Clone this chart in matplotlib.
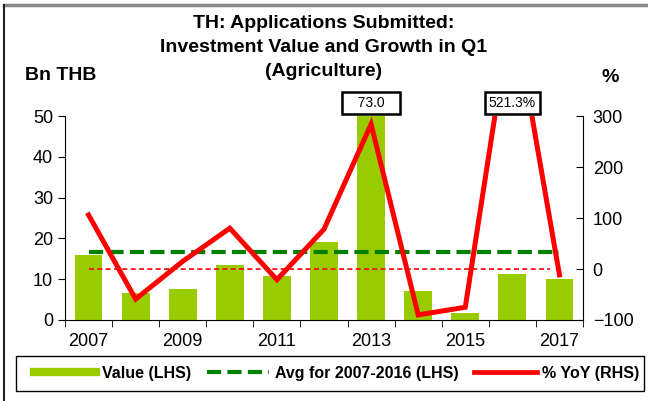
import matplotlib.pyplot as plt
from matplotlib.lines import Line2D
from matplotlib.patches import Rectangle
import numpy as np

plt.rcParams['font.family'] = ['Liberation Sans', 'DejaVu Sans']

# data
years = np.arange(2007, 2018)
value = [16.0, 6.5, 7.5, 13.5, 10.7, 19.0, 73.0, 7.2, 1.8, 11.3, 10.0]
yoy = [106, -59, 15, 80, -21, 78, 284, -90, -75, 521.3, -11.5]
avg_0716 = np.mean(value[:10])
tick_years = ['2007', '2009', '2011', '2013', '2015', '2017']
title_lines = ['TH: Applications Submitted:', 'Investment Value and Growth in Q1', '(Agriculture)']

bar_c = '#99CC00'
avg_c = '#008000'
red = '#FF0000'

fig = plt.figure(figsize=(6.48, 4.01), dpi=100)
ax = fig.add_axes([65/648, 1-320/401, 518/648, 204/401])
ax2 = ax.twinx()

x = np.arange(len(years))
ax.bar(x, value, width=0.59, color=bar_c, zorder=2)
ax.plot([0, 10], [avg_0716, avg_0716], color=avg_c, lw=3, ls=(0, (3.4, 1.5)), zorder=3)
ax2.plot([0, 9.8], [0, 0], color=red, lw=1.2, ls=(0, (3, 2)), zorder=1)
ax2.plot(x, yoy, color=red, lw=3.6, zorder=4, solid_joinstyle='miter')

ax.set_xlim(-0.5, 10.5)
ax.set_ylim(0, 50)
ax2.set_ylim(-100, 300)
ax.set_yticks([0, 10, 20, 30, 40, 50])
ax2.set_yticks([-100, 0, 100, 200, 300])

ax.set_xticks(x[::2])
ax.set_xticklabels(tick_years)
ax.set_xticks(np.arange(-0.5, 11, 1), minor=True)
ax.tick_params(axis='x', which='major', length=0, labelsize=13, pad=9)
ax.tick_params(axis='x', which='minor', length=5, direction='out')
ax.tick_params(axis='y', length=5, direction='out', labelsize=13)
ax2.tick_params(axis='y', length=5, direction='in', labelsize=13, pad=7)

for a in (ax, ax2):
    a.spines['top'].set_visible(False)
ax.spines['right'].set_visible(False)
ax2.spines['left'].set_visible(False)
ax2.spines['bottom'].set_visible(False)

# annotation boxes for clipped values
box = dict(boxstyle='square,pad=0.3', fc='white', ec='black', lw=1.8)
ax.annotate('   %.1f   ' % value[6], xy=(x[6], 50), xytext=(0, 4.5), textcoords='offset points',
            ha='center', va='bottom', fontsize=10, bbox=box, annotation_clip=False)
ax2.annotate('%.1f%%' % yoy[9], xy=(x[9], 300), xytext=(0, 4.5), textcoords='offset points',
             ha='center', va='bottom', fontsize=10, bbox=box, annotation_clip=False)

for i, line in enumerate(title_lines):
    fig.text(0.5, 1-(23 + 24*i)/401, line, ha='center', va='center',
             fontsize=14, fontweight='bold')
fig.text(25/648, 1-76/401, 'Bn THB', ha='left', va='center', fontsize=14, fontweight='bold')
fig.text(610/648, 1-78/401, '%', ha='center', va='center', fontsize=14, fontweight='bold')

# legend
fig.add_artist(Rectangle((16/648, 1-391/401), 628/648, 35/401, transform=fig.transFigure,
                         fc='white', ec='black', lw=1.0))
handles = [Line2D([], [], color=bar_c, lw=6),
           Line2D([], [], color=avg_c, lw=3, ls=(0, (3.4, 1.5))),
           Line2D([], [], color=red, lw=3.4)]
labels = ['Value (LHS)', 'Avg for 2007-2016 (LHS)', '% YoY (RHS)']
fig.legend(handles, labels, ncol=3, loc='center left',
           bbox_to_anchor=(34/648, 1-373.5/401), frameon=False,
           handlelength=3.9, handletextpad=0.35, columnspacing=1.0,
           borderpad=0, borderaxespad=0, prop={'weight': 'bold', 'size': 11.5})

# outer frame
fig.add_artist(Line2D([4/648, 1], [1-5/401, 1-5/401], color='#888888', lw=2.5, transform=fig.transFigure))
fig.add_artist(Line2D([4/648, 4/648], [0, 1-5/401], color='#222222', lw=1.5, transform=fig.transFigure))

fig.savefig('out.png', dpi=100)
